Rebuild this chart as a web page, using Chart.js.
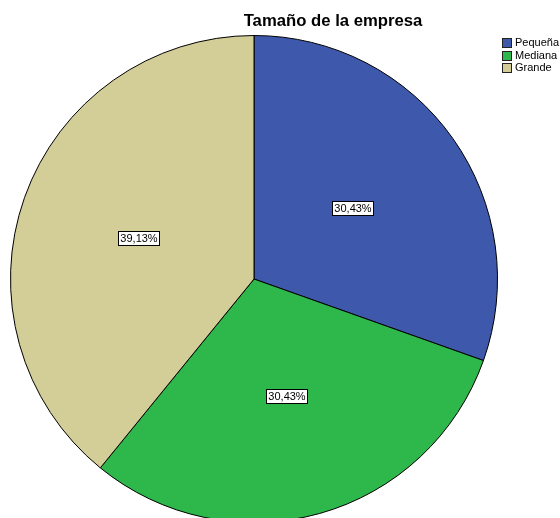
<!DOCTYPE html>
<html>
<head>
<meta charset="utf-8">
<script src="https://cdn.jsdelivr.net/npm/chart.js@4"></script>
<style>
  html, body { margin: 0; padding: 0; background: #fff; overflow: hidden; }
  #wrap { position: relative; width: 560px; height: 530px; }
</style>
</head>
<body>
<div id="wrap"><canvas id="pieChart"></canvas></div>
<script>
const labels = ["Pequeña", "Mediana", "Grande"]
const counts = [7, 7, 9]
const percentLabels = ["30,43%", "30,43%", "39,13%"]
const colors = ["#3e58ac", "#2eb84b", "#d3ce97"]
const chartTitle = "Tamaño de la empresa"

const ctx = document.querySelector("#pieChart").getContext("2d")

// title, legend and the boxed percentage labels
const spssDecor = {
    id: "spssDecor",
    afterDraw(chart) {
        const c = chart.ctx
        c.save()

        c.fillStyle = "#000"
        c.font = "bold 16.7px Arial, 'Liberation Sans', sans-serif"
        c.textAlign = "center"
        c.textBaseline = "alphabetic"
        c.fillText(chartTitle, 333, 26)

        c.font = "11px Arial, 'Liberation Sans', sans-serif"
        c.textAlign = "left"
        c.textBaseline = "middle"
        labels.forEach((lab, i) => {
            const y = Math.round(38 + i * 12.5)
            c.fillStyle = colors[i]
            c.fillRect(502, y, 10, 10)
            c.strokeStyle = "#222"
            c.lineWidth = 1
            c.strokeRect(502.5, y + 0.5, 9, 9)
            c.fillStyle = "#000"
            c.fillText(lab, 515, y + 5)
        })

        const meta = chart.getDatasetMeta(0)
        c.textAlign = "center"
        meta.data.forEach((arc, i) => {
            const p = arc.tooltipPosition()
            const txt = percentLabels[i]
            const w = Math.round(c.measureText(txt).width) + 5
            const h = 15
            const x0 = Math.round(p.x - w / 2)
            const y0 = Math.round(p.y - h / 2)
            c.fillStyle = "#fff"
            c.fillRect(x0, y0, w, h)
            c.strokeStyle = "#000"
            c.strokeRect(x0 + 0.5, y0 + 0.5, w - 1, h - 1)
            c.fillStyle = "#000"
            c.fillText(txt, x0 + w / 2, y0 + h / 2 + 0.5)
        })
        c.restore()
    }
}

const myChart = new Chart(ctx, {
    type: "pie",
    data: {
        labels,
        datasets: [{
            data: counts,
            backgroundColor: colors,
            borderColor: "#000",
            borderWidth: 1
        }]
    },
    options: {
        responsive: true,
        maintainAspectRatio: false,
        animation: false,
        layout: {
            padding: { left: 10, right: 62, top: 35, bottom: 7 }
        },
        plugins: {
            legend: { display: false },
            title: { display: false },
            tooltip: { enabled: false }
        }
    },
    plugins: [spssDecor]
})
</script>
</body>
</html>
